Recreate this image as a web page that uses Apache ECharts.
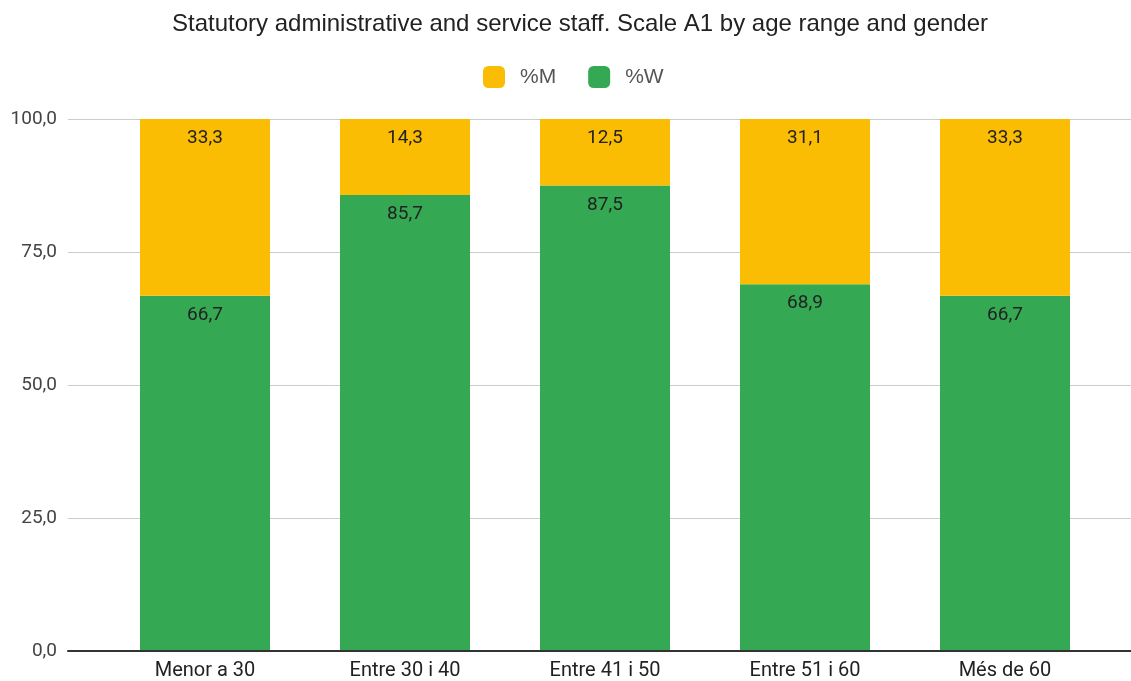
<!DOCTYPE html>
<html><head><meta charset="utf-8">
<script src="https://cdn.jsdelivr.net/npm/echarts@6/dist/echarts.min.js"></script>
<style>html,body{margin:0;padding:0;background:#fff}#c{width:1131px;height:681px}</style>
</head><body><div id="c"></div>
<script>
const categories = ['Menor a 30', 'Entre 30 i 40', 'Entre 41 i 50', 'Entre 51 i 60', 'Més de 60'];
const seriesW = [66.7, 85.7, 87.5, 68.9, 66.7];
const seriesM = [33.3, 14.3, 12.5, 31.1, 33.3];
const yTicks = [0, 25, 50, 75, 100];
const fmt = v => Number(v).toFixed(1).replace('.', ',');
const chart = echarts.init(document.getElementById('c'));
const lblFont = 'Roboto, "Liberation Sans", Arial, sans-serif';
const arial = '"Liberation Sans", Arial, sans-serif';
chart.setOption({
  animation: false,
  title: { text: 'Statutory administrative and service staff. Scale A1 by age range and gender', left: 575, textAlign: 'center', top: 7,
    textStyle: { fontFamily: arial, fontSize: 24, fontWeight: 'normal', color: '#222' } },
  legend: { top: 61, left: 478, itemWidth: 22, itemHeight: 22, itemGap: 32, data: ['%M', '%W'],
    textStyle: { fontFamily: arial, fontSize: 21, color: '#555', padding: [0, 0, 0, 10] },
    itemStyle: { borderRadius: 3 } },
  grid: [
    { left: 68, right: 0, top: 119, bottom: 30 },
    { left: 105, right: 26, top: 119, bottom: 30 }
  ],
  xAxis: [
    { type: 'category', gridIndex: 0, data: [''], axisLine: { show: true, lineStyle: { color: '#333', width: 2 } }, axisTick: { show: false }, axisLabel: { show: false } },
    { type: 'category', gridIndex: 1, data: categories, axisLine: { show: false }, axisTick: { show: false },
      axisLabel: { fontFamily: lblFont, fontSize: 20, color: '#222', margin: 11 } }
  ],
  yAxis: [
    { type: 'value', gridIndex: 0, min: 0, max: 100, interval: 25, axisLine: { show: false }, axisTick: { show: false },
      splitLine: { lineStyle: { color: '#ccc', width: 1 } },
      axisLabel: { fontFamily: lblFont, fontSize: 19, color: '#444', margin: 11, formatter: v => yTicks.includes(v) ? fmt(v) : '' } },
    { type: 'value', gridIndex: 1, min: 0, max: 100, interval: 25, show: false, splitLine: { show: false } }
  ],
  series: [
    { name: '%W', type: 'bar', stack: 'a', xAxisIndex: 1, yAxisIndex: 1, data: seriesW, barWidth: 130, z: 3,
      itemStyle: { color: '#34a853' },
      label: { show: true, position: 'insideTop', distance: 10, fontFamily: lblFont, fontSize: 19, color: '#222', formatter: p => fmt(p.value) } },
    { name: '%M', type: 'bar', stack: 'a', xAxisIndex: 1, yAxisIndex: 1, data: seriesM, barWidth: 130, z: 3,
      itemStyle: { color: '#fbbc04' },
      label: { show: true, position: 'insideTop', distance: 10, fontFamily: lblFont, fontSize: 19, color: '#222', formatter: p => fmt(p.value) } }
  ]
});
</script></body></html>
